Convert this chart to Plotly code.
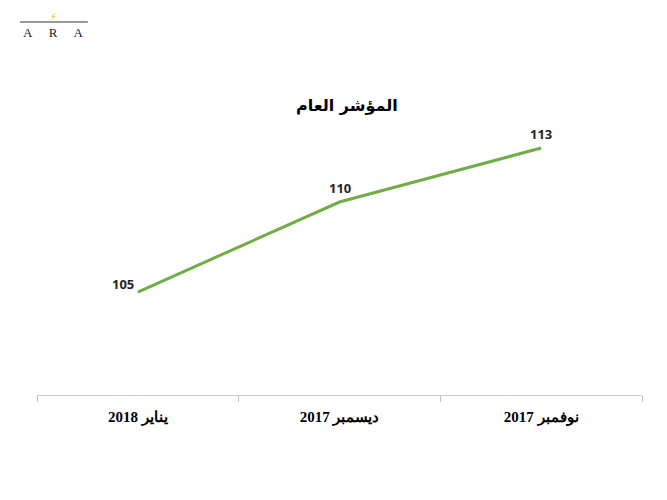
import plotly.graph_objects as go

categories = ["نوفمبر 2017", "ديسمبر 2017", "يناير 2018"]
values = [113, 110, 105]
label_text = ["113", "110", "105"]

fig = go.Figure()
fig.add_trace(go.Scatter(
    x=categories, y=values, mode="lines",
    line=dict(color="#70ad47", width=3),
    hoverinfo="skip", showlegend=False,
))

shifts = [(0, 14), (0, 14), (-15, 8)]
for c, v, t, (dx, dy) in zip(categories, values, label_text, shifts):
    fig.add_annotation(x=c, y=v, text="<b>%s</b>" % t, showarrow=False,
                       xshift=dx, yshift=dy,
                       font=dict(family="Open Sans, Arial", size=13, color="#262626"))

fig.update_layout(
    width=667, height=500,
    margin=dict(l=37, r=25, t=130, b=105),
    paper_bgcolor="white", plot_bgcolor="white",
    title=dict(text="<b>المؤشر العام</b>", x=0.52, xanchor="center", y=0.79, yanchor="middle",
               font=dict(family="DejaVu Sans, Arial", size=16, color="#000000")),
    xaxis=dict(type="category", range=[2.5, -0.5], tickson="boundaries",
               tickvals=categories, ticktext=["<b>%s</b>" % c for c in categories],
               tickangle=0,
               ticks="outside", ticklen=6, tickcolor="#bfbfbf",
               showline=True, linecolor="#d0d0d0", linewidth=1,
               showgrid=False, zeroline=False,
               tickfont=dict(family="Liberation Serif, DejaVu Serif", size=15, color="#000000"),
               ticklabelstandoff=8),
    yaxis=dict(range=[99.28, 114.0], visible=False, showgrid=False, zeroline=False),
)

# logo (paper coords: x=(px-37)/605, y=(395-py)/265)
fig.add_shape(type="line", xref="paper", yref="paper",
              x0=-0.028, x1=0.084, y0=1.4075, y1=1.4075,
              line=dict(color="#333333", width=1.2))
fig.add_annotation(xref="paper", yref="paper", x=0.028, y=1.368,
                   text="A&nbsp;&nbsp;&nbsp;&nbsp;&nbsp;R&nbsp;&nbsp;&nbsp;&nbsp;&nbsp;A",
                   showarrow=False, xanchor="center", yanchor="middle",
                   font=dict(family="Liberation Serif", size=13, color="#222222"))
fig.add_annotation(xref="paper", yref="paper", x=0.028, y=1.43, text="⚡",
                   showarrow=False, xanchor="center", yanchor="middle",
                   font=dict(family="DejaVu Sans", size=10, color="#f2c200"))

fig.write_html("out.html")
